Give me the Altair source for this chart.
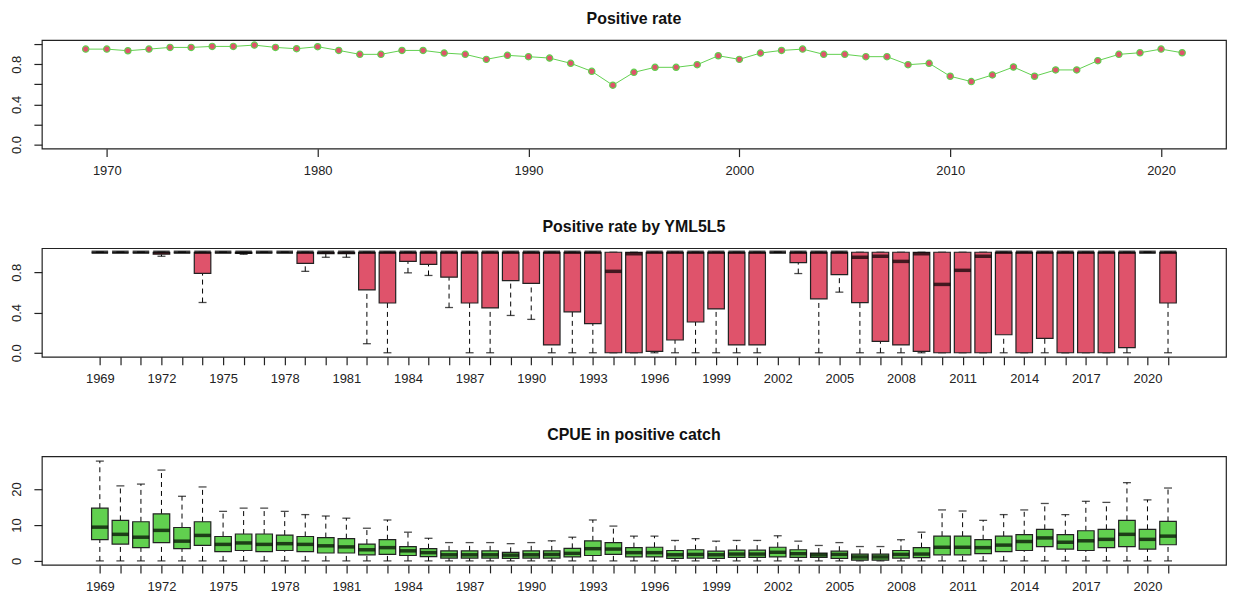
import altair as alt
import pandas as pd

years = list(range(1969, 2022))

# panel 1: positive rate per year
pos_rate = [
    0.950, 0.950, 0.934, 0.950, 0.967, 0.967, 0.977, 0.977, 0.990, 0.967,
    0.954, 0.974, 0.937, 0.898, 0.898, 0.937, 0.937, 0.911, 0.898, 0.848,
    0.888, 0.875, 0.861, 0.809, 0.729, 0.591, 0.719, 0.769, 0.769, 0.795,
    0.884, 0.848, 0.911, 0.937, 0.950, 0.898, 0.898, 0.875, 0.875, 0.795,
    0.809, 0.680, 0.627, 0.693, 0.772, 0.680, 0.743, 0.743, 0.835, 0.898,
    0.914, 0.950, 0.914,
]

# panel 2: positive rate by YML5L5 (box stats)
pr_lower = [
    1.0, 1.0, 1.0, 0.96, 1.0, 0.50, 1.0, 0.98, 1.0, 1.0,
    0.81, 0.95, 0.95, 0.09, 0.0, 0.795, 0.769, 0.45, 0.0, 0.0,
    0.371, 0.332, 0.0, 0.0, 0.0, 0.0, 0.0, 0.0, 0.0, 0.0,
    0.0, 0.0, 0.0, 1.0, 0.788, 0.0, 0.603, 0.0, 0.0, 0.0,
    0.0, 0.0, 0.0, 0.0, 0.0, 0.0, 0.0, 0.0, 0.0, 0.0,
    0.0, 1.0, 0.0,
]
pr_q1 = [
    1.0, 1.0, 1.0, 0.98, 1.0, 0.79, 1.0, 0.99, 1.0, 1.0,
    0.89, 0.985, 0.985, 0.625, 0.495, 0.909, 0.879, 0.752, 0.495, 0.446,
    0.717, 0.69, 0.078, 0.407, 0.29, 0.0, 0.0, 0.013, 0.127, 0.306,
    0.436, 0.078, 0.078, 1.0, 0.896, 0.537, 0.778, 0.498, 0.114, 0.078,
    0.013, 0.0, 0.0, 0.0, 0.179, 0.0, 0.143, 0.0, 0.0, 0.0,
    0.052, 1.0, 0.495,
]
pr_median = [
    1.0, 1.0, 1.0, 1.0, 1.0, 1.0, 1.0, 1.0, 1.0, 1.0,
    1.0, 1.0, 1.0, 1.0, 1.0, 1.0, 1.0, 1.0, 1.0, 1.0,
    1.0, 1.0, 1.0, 1.0, 1.0, 0.81, 0.985, 1.0, 1.0, 1.0,
    1.0, 1.0, 1.0, 1.0, 1.0, 1.0, 1.0, 0.95, 0.96, 0.909,
    0.985, 0.68, 0.82, 0.96, 1.0, 1.0, 1.0, 1.0, 1.0, 1.0,
    1.0, 1.0, 1.0,
]
pr_q3 = [1.0] * 53
pr_upper = [1.0] * 53

# panel 3: CPUE in positive catch (box stats)
cpue_lower = [0.0] * 53
cpue_q1 = [
    5.9, 4.7, 3.7, 5.1, 3.4, 4.3, 2.6, 2.9, 2.6, 2.9,
    2.6, 2.2, 2.2, 1.7, 1.8, 1.5, 1.2, 0.8, 0.8, 0.8,
    0.7, 0.8, 0.8, 1.1, 1.5, 1.8, 1.1, 1.1, 0.7, 0.8,
    0.7, 1.0, 1.0, 1.1, 1.0, 1.0, 0.7, 0.2, 0.2, 0.8,
    0.9, 1.7, 1.7, 2.0, 2.6, 2.9, 4.0, 3.3, 2.9, 3.7,
    4.0, 3.3, 4.5,
]
cpue_median = [
    9.4, 7.4, 6.6, 8.5, 5.5, 7.1, 4.6, 5.0, 4.6, 4.8,
    4.6, 4.2, 3.9, 3.1, 3.7, 2.8, 2.3, 1.7, 1.7, 1.7,
    1.6, 1.7, 1.8, 2.1, 3.4, 3.3, 2.3, 2.3, 1.7, 1.8,
    1.7, 1.9, 1.9, 2.4, 2.0, 1.7, 1.8, 1.1, 1.1, 1.8,
    1.9, 3.8, 3.8, 3.7, 4.4, 5.4, 6.4, 5.2, 5.6, 6.0,
    7.4, 6.0, 6.9,
]
cpue_q3 = [
    14.7, 11.3, 10.9, 13.1, 9.3, 10.9, 6.8, 7.5, 7.5, 7.2,
    6.8, 6.5, 6.2, 4.7, 5.9, 4.0, 3.4, 2.8, 2.8, 2.8,
    2.4, 2.8, 2.8, 3.5, 5.6, 5.1, 3.7, 3.8, 2.9, 3.1,
    2.7, 3.0, 3.0, 3.8, 3.1, 2.2, 2.7, 1.9, 1.9, 2.9,
    3.7, 6.9, 6.9, 5.9, 6.9, 7.3, 8.8, 7.3, 8.4, 8.8,
    11.3, 8.8, 11.0,
]
cpue_upper = [
    27.8, 20.9, 21.4, 25.3, 18.0, 20.6, 13.8, 14.7, 14.7, 13.8,
    12.9, 12.5, 11.9, 9.1, 11.4, 8.0, 6.3, 5.1, 5.1, 5.1,
    4.8, 5.1, 5.6, 6.6, 11.4, 9.7, 6.9, 6.9, 5.7, 6.2,
    5.5, 5.7, 5.7, 7.0, 5.5, 4.3, 5.1, 4.0, 4.0, 5.9,
    8.0, 14.2, 13.9, 11.3, 12.9, 14.2, 16.0, 12.9, 16.6, 16.3,
    21.8, 17.0, 20.3,
]

GREEN = "#61D04F"
RED = "#DF536B"
W, H = 1189, 109
BOX = 16.6

df_rate = pd.DataFrame({"year": years, "rate": pos_rate})

x1 = alt.X(
    "year:Q",
    title=None,
    scale=alt.Scale(domain=[1966.92, 2023.08], nice=False, zero=False),
    axis=alt.Axis(values=list(range(1970, 2030, 10)), format="d"),
)
y1 = alt.Y(
    "rate:Q",
    title=None,
    scale=alt.Scale(domain=[-0.04, 1.04], nice=False, zero=False),
    axis=alt.Axis(
        values=[0, 0.2, 0.4, 0.6, 0.8, 1.0],
        labelExpr="round(datum.value * 10) % 4 == 0 ? format(datum.value, '.1f') : ''",
    ),
)
base1 = alt.Chart(df_rate)
line = base1.mark_line(color=GREEN, strokeWidth=1).encode(x=x1, y=y1)
pts = base1.mark_point(
    shape="circle", filled=True, fill=RED, stroke=GREEN, strokeWidth=1.2, size=40, opacity=1
).encode(x=x1, y=y1)
panel1 = (line + pts).properties(width=W, height=H, title="Positive rate")


def box_panel(lower, q1, median, q3, upper, fill, ydomain, yvalues, ylabel_expr, title):
    df = pd.DataFrame(
        {"year": years, "lower": lower, "q1": q1, "median": median, "q3": q3, "upper": upper}
    )
    x = alt.X(
        "year:Q",
        title=None,
        scale=alt.Scale(domain=[1966.42, 2023.58], nice=False, zero=False),
        axis=alt.Axis(
            values=years,
            format="d",
            labelOverlap=False,
            labelExpr="(datum.value - 1969) % 3 == 0 ? datum.label : ''",
        ),
    )
    ysc = alt.Scale(domain=ydomain, nice=False, zero=False)
    yax = alt.Axis(values=yvalues, labelExpr=ylabel_expr)
    base = alt.Chart(df)
    whisk_lo = base.mark_rule(color="black", strokeDash=[5, 4], strokeWidth=1).encode(
        x=x, y=alt.Y("lower:Q", title=None, scale=ysc, axis=yax), y2="q1:Q"
    )
    whisk_hi = base.mark_rule(color="black", strokeDash=[5, 4], strokeWidth=1).encode(
        x=x, y=alt.Y("q3:Q"), y2="upper:Q"
    )
    cap_lo = base.mark_tick(orient="horizontal", size=8, thickness=1.3, color="black").encode(
        x=x, y=alt.Y("lower:Q")
    )
    cap_hi = base.mark_tick(orient="horizontal", size=8, thickness=1.3, color="black").encode(
        x=x, y=alt.Y("upper:Q")
    )
    boxes = base.mark_bar(size=BOX, fill=fill, stroke="#222", strokeWidth=1.2, opacity=1).encode(
        x=x, y=alt.Y("q1:Q"), y2="q3:Q"
    )
    med = base.mark_tick(orient="horizontal", size=BOX, thickness=3.5, color="black").encode(
        x=x, y=alt.Y("median:Q")
    )
    return (whisk_lo + whisk_hi + cap_lo + cap_hi + boxes + med).properties(
        width=W, height=H, title=title
    )


panel2 = box_panel(
    pr_lower, pr_q1, pr_median, pr_q3, pr_upper, RED,
    [-0.04, 1.04], [0, 0.2, 0.4, 0.6, 0.8, 1.0],
    "round(datum.value * 10) % 4 == 0 ? format(datum.value, '.1f') : ''",
    "Positive rate by YML5L5",
)
panel3 = box_panel(
    cpue_lower, cpue_q1, cpue_median, cpue_q3, cpue_upper, GREEN,
    [-1.12, 29.12], [0, 5, 10, 15, 20, 25],
    "datum.value % 10 == 0 ? datum.label : ''",
    "CPUE in positive catch",
)

chart = (
    alt.vconcat(panel1, panel2, panel3, spacing=40)
    .properties(padding={"left": 2, "top": 0, "right": 0, "bottom": 0})
    .configure_view(stroke="#222", strokeWidth=1.2)
    .configure_axis(
        domain=False,
        grid=False,
        ticks=True,
        tickColor="#222",
        tickSize=8,
        tickWidth=1.2,
        labelFont="Liberation Sans",
        labelFontSize=13,
        labelColor="#222",
        labelPadding=8,
    )
    .configure_axisLeft(labelAngle=-90, labelAlign="center", labelBaseline="bottom", labelPadding=10)
    .configure_title(
        font="Liberation Sans", fontSize=16, fontWeight="bold", color="#111", anchor="middle", offset=13
    )
)

chart.save("out.html", embed_options={"renderer": "svg", "actions": False})
